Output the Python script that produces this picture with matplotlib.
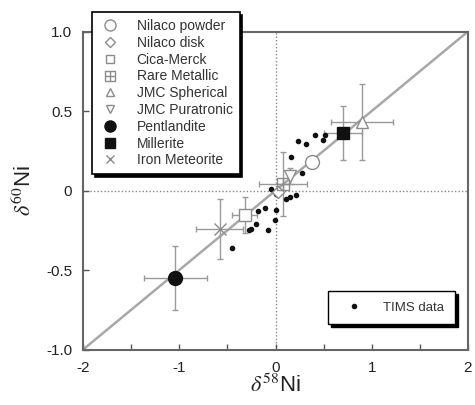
import numpy as np
import matplotlib
matplotlib.use("Agg")
import matplotlib.pyplot as plt
from matplotlib.path import Path
from matplotlib.lines import Line2D

plt.rcParams['font.family'] = ['Liberation Sans', 'DejaVu Sans']
plt.rcParams['mathtext.fontset'] = 'stix'

# reference samples
samples = ['Nilaco powder', 'Nilaco disk', 'Cica-Merck', 'Rare Metallic',
           'JMC Spherical', 'JMC Puratronic', 'Pentlandite', 'Millerite',
           'Iron Meteorite']
d58 = [0.38, 0.03, -0.32, 0.08, 0.90, 0.15, -1.04, 0.70, -0.58]
d60 = [0.18, -0.01, -0.155, 0.04, 0.43, 0.09, -0.55, 0.365, -0.24]
err58 = [0.0, 0.0, 0.13, 0.25, 0.32, 0.0, 0.33, 0.20, 0.245]
err60 = [0.0, 0.0, 0.115, 0.20, 0.24, 0.05, 0.20, 0.17, 0.19]

# TIMS data (small dots)
tims58 = [0.23, 0.32, 0.41, 0.51, 0.49, 0.16, 0.28, -0.045, 0.11, 0.15,
          0.21, -0.18, -0.11, 0.0, -0.01, -0.20, -0.25, -0.28, -0.08, -0.45,
          0.0]
tims60 = [0.31, 0.29, 0.35, 0.35, 0.32, 0.21, 0.11, 0.01, -0.055, -0.04,
          -0.03, -0.13, -0.11, -0.12, -0.185, -0.21, -0.24, -0.25, -0.25,
          -0.36, -0.02]

# square with a plus inside
boxplus = Path([(-1, -1), (1, -1), (1, 1), (-1, 1), (-1, -1),
                (-1, 0), (1, 0), (0, -1), (0, 1)],
               [Path.MOVETO, Path.LINETO, Path.LINETO, Path.LINETO, Path.CLOSEPOLY,
                Path.MOVETO, Path.LINETO, Path.MOVETO, Path.LINETO])

GRAY = '#8c8c8c'
styles = [
    dict(marker='o', ms=10, mfc='white', mec=GRAY),
    dict(marker='D', ms=6, mfc='white', mec=GRAY),
    dict(marker='s', ms=8, mfc='white', mec=GRAY),
    dict(marker=boxplus, ms=9, mfc='none', mec=GRAY),
    dict(marker='^', ms=8, mfc='white', mec=GRAY),
    dict(marker='v', ms=8, mfc='white', mec=GRAY),
    dict(marker='o', ms=10, mfc='#111111', mec='#111111'),
    dict(marker='s', ms=9, mfc='#111111', mec='#111111'),
    dict(marker='x', ms=8, mfc='none', mec=GRAY),
]

fig = plt.figure(figsize=(4.75, 4.05), dpi=100)
ax = fig.add_axes([0.175, 0.137, 0.81, 0.785])

ax.plot([-2, 2], [-1, 1], color='#a8a8a8', lw=1.8, zorder=1)
ax.axhline(0, color='#888888', ls=(0, (1, 1.5)), lw=1, zorder=1)
ax.axvline(0, color='#888888', ls=(0, (1, 1.5)), lw=1, zorder=1)

ax.plot(tims58, tims60, 'o', ms=3, color='#111111', zorder=3)

handles = []
for i, name in enumerate(samples):
    ax.errorbar(d58[i], d60[i], xerr=err58[i] or None, yerr=err60[i] or None,
                fmt='none', ecolor='#9a9a9a', elinewidth=1, capsize=2,
                capthick=1, zorder=2)
    ax.plot(d58[i], d60[i], ls='none', mew=1, zorder=4, **styles[i])
    handles.append(Line2D([], [], ls='none', mew=1, label=name, **styles[i]))

ax.set_xlim(-2, 2)
ax.set_ylim(-1, 1)
ax.set_xticks([-2, -1, 0, 1, 2])
ax.set_xticklabels(['-2', '-1', '0', '1', '2'])
ax.set_xticks([-1.5, -0.5, 0.5, 1.5], minor=True)
ax.set_yticks([-1, -0.5, 0, 0.5, 1])
ax.set_yticklabels(['-1.0', '-0.5', '0', '0.5', '1.0'])
ax.tick_params(which='both', direction='in', length=4, width=1,
               color='#555555', labelsize=11, labelcolor='#222222')
ax.tick_params(axis='x', pad=8)
ax.tick_params(axis='y', pad=8)
for s in ax.spines.values():
    s.set_color('#666666')
    s.set_linewidth(1.5)

ax.set_xlabel(r'$\delta^{58}$Ni', fontsize=16, color='#222222', labelpad=0)
ax.set_ylabel(r'$\delta^{60}$Ni', fontsize=16, color='#222222', labelpad=7)

leg = fig.legend(handles=handles, loc='upper left',
                 bbox_to_anchor=(0.194, 0.970), borderaxespad=0,
                 fontsize=10, frameon=True,
                 fancybox=False, shadow={'color': 'black', 'alpha': 1},
                 edgecolor='black', framealpha=1, labelcolor='#333333',
                 labelspacing=0.2, handlelength=1.5, handletextpad=1.2,
                 borderpad=0.5, markerscale=0.8)
leg.get_frame().set_linewidth(1.2)

tims_h = Line2D([], [], ls='none', marker='o', ms=3, color='#111111',
                label='TIMS data')
leg2 = ax.legend(handles=[tims_h], loc='lower right',
                 bbox_to_anchor=(0.966, 0.079), fontsize=9.5, frameon=True,
                 fancybox=False, shadow={'color': 'black', 'alpha': 1},
                 edgecolor='black', framealpha=1, labelcolor='#333333',
                 handlelength=2.4, handletextpad=1.0, borderpad=0.8,
                 borderaxespad=0)
leg2.get_frame().set_linewidth(1.0)

fig.savefig('out.png', dpi=100)
